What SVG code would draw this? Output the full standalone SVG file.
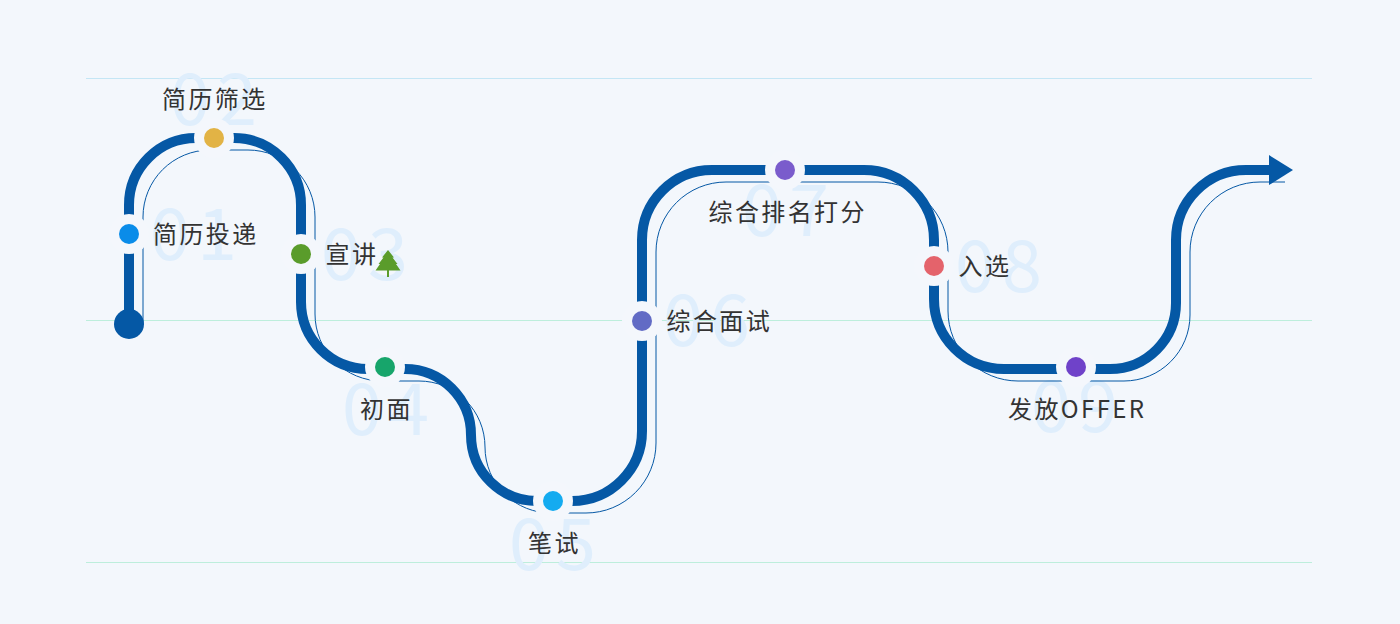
<svg xmlns="http://www.w3.org/2000/svg" width="1400" height="624" viewBox="0 0 1400 624">
<style>
.num{font-family:"Noto Sans CJK SC","Noto Sans",sans-serif;font-size:72px;fill:#dfeefc;text-anchor:middle;letter-spacing:7px}
.lab{font-family:"Noto Sans CJK SC","Noto Sans",sans-serif;font-size:24px;fill:#333;letter-spacing:2.4px}
.halo{fill:#f4f7fc}
.grid{stroke-width:1;fill:none}
</style>
<rect width="1400" height="624" fill="#f3f7fc"/>
<g id="grid">
<line class="grid" x1="86" y1="78.5" x2="1312" y2="78.5" stroke="#c4e6f5"/>
<line class="grid" x1="86" y1="320.5" x2="1312" y2="320.5" stroke="#bdeedc"/>
<line class="grid" x1="86" y1="562.5" x2="1312" y2="562.5" stroke="#bdeedc"/>
</g>
<g id="numbers">
<text class="num" x="197" y="260">01</text>
<text class="num" x="217" y="125">02</text>
<text class="num" x="368" y="280">03</text>
<text class="num" x="389" y="435">04</text>
<text class="num" x="556" y="570">05</text>
<text class="num" x="710" y="346">06</text>
<text class="num" x="789" y="236">07</text>
<text class="num" x="1002" y="292">08</text>
<text class="num" x="1078" y="432">09</text>
</g>
<g id="connectors" fill="none">
<path d="M143 325V217A67 67 0 0 1 210 150H248A67 67 0 0 1 315 217V314A67 67 0 0 0 382 381H419A66 66 0 0 1 485 447A66 66 0 0 0 552 513H586A70 70 0 0 0 656 443V252A70 70 0 0 1 726 182H878A70 70 0 0 1 948 252V311A70 70 0 0 0 1018 381H1124A66 66 0 0 0 1190 315V252A70 70 0 0 1 1260 182H1285" stroke="#0558a5" stroke-width="1"/>
<path d="M129 324V205A67 67 0 0 1 196 138H234A67 67 0 0 1 301 205V302A67 67 0 0 0 368 369H405A66 66 0 0 1 471 435A66 66 0 0 0 538 501H572A70 70 0 0 0 642 431V240A70 70 0 0 1 712 170H864A70 70 0 0 1 934 240V299A70 70 0 0 0 1004 369H1110A66 66 0 0 0 1176 303V240A70 70 0 0 1 1246 170H1272" stroke="#0558a5" stroke-width="10"/>
<path d="M1269 155L1293 170L1269 185Z" fill="#0558a5"/>
</g>
<g id="start"><circle cx="129" cy="324" r="15" fill="#0558a5"/></g>
<g id="n1"><circle class="halo" cx="129" cy="234" r="20"/><circle cx="129" cy="234" r="10" fill="#0a8ce9"/><text class="lab" x="153" y="243">简历投递</text></g>
<g id="n2"><circle class="halo" cx="214" cy="138" r="20"/><circle cx="214" cy="138" r="10" fill="#e2b345"/><text class="lab" x="162" y="108">简历筛选</text></g>
<g id="n3"><circle class="halo" cx="301" cy="254" r="20"/><circle cx="301" cy="254" r="10" fill="#5a9c2b"/><text class="lab" x="325.500" y="263">宣讲</text>
<path d="M388 250L394 257.500H392.500L397.500 264H396L400.500 270.500H389V277H387V270.500H375.500L380 264H378.500L383.500 257.500H382Z" fill="#5a9c2b"/></g>
<g id="n4"><circle class="halo" cx="385" cy="367" r="20"/><circle cx="385" cy="367" r="10" fill="#17a56b"/><text class="lab" x="360" y="418">初面</text></g>
<g id="n5"><circle class="halo" cx="553" cy="501" r="20"/><circle cx="553" cy="501" r="10" fill="#14abf0"/><text class="lab" x="528" y="552">笔试</text></g>
<g id="n6"><circle class="halo" cx="642" cy="321" r="20"/><circle cx="642" cy="321" r="10" fill="#626bc5"/><text class="lab" x="666.500" y="330">综合面试</text></g>
<g id="n7"><circle class="halo" cx="785" cy="170" r="20"/><circle cx="785" cy="170" r="10" fill="#7a5ccc"/><text class="lab" x="708.500" y="221">综合排名打分</text></g>
<g id="n8"><circle class="halo" cx="934" cy="266" r="20"/><circle cx="934" cy="266" r="10" fill="#e4636b"/><text class="lab" x="958.500" y="275">入选</text></g>
<g id="n9"><circle class="halo" cx="1076" cy="367" r="20"/><circle cx="1076" cy="367" r="10" fill="#6f42c9"/><text class="lab" x="1008" y="418">发放OFFER</text></g>
</svg>
